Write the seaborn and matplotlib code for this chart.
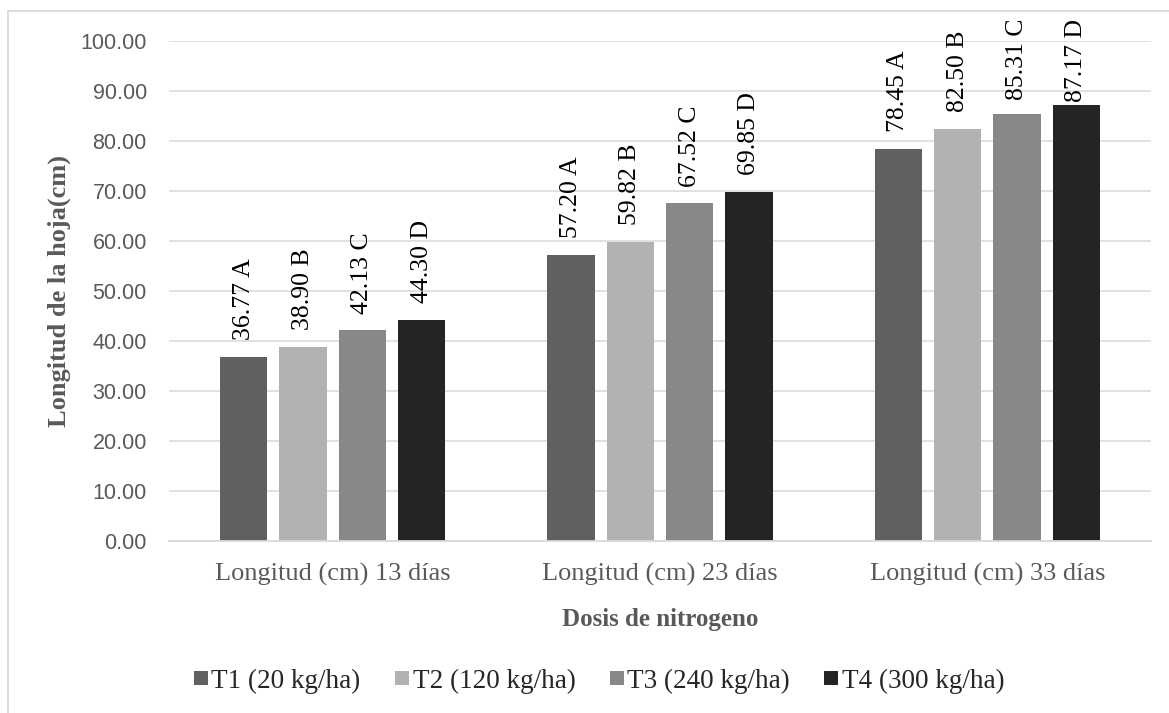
import matplotlib
matplotlib.use("Agg")
import matplotlib.pyplot as plt
import seaborn as sns
import pandas as pd
from matplotlib.lines import Line2D
from matplotlib.patches import Rectangle

# ---- data ----
categories = ["Longitud (cm) 13 días", "Longitud (cm) 23 días", "Longitud (cm) 33 días"]
series_names = ["T1 (20 kg/ha)", "T2 (120 kg/ha)", "T3 (240 kg/ha)", "T4 (300 kg/ha)"]
t1_values = [36.77, 57.20, 78.45]
t2_values = [38.90, 59.82, 82.50]
t3_values = [42.13, 67.52, 85.31]
t4_values = [44.30, 69.85, 87.17]
series_letters = ["A", "B", "C", "D"]
y_ticks = [0, 10, 20, 30, 40, 50, 60, 70, 80, 90, 100]

colors = ["#606060", "#b2b2b2", "#888888", "#242424"]
SERIF = "Liberation Serif"
SANS = "Liberation Sans"
GRID = "#d9d9d9"
TXT = "#595959"

all_values = [t1_values, t2_values, t3_values, t4_values]
rows = []
for name, vals in zip(series_names, all_values):
    for cat, v in zip(categories, vals):
        rows.append({"cat": cat, "serie": name, "valor": v})
df = pd.DataFrame(rows)

sns.set_theme(style="white")
plt.rcParams["font.family"] = [SERIF, "DejaVu Serif"]

fig = plt.figure(figsize=(11.69, 7.13), dpi=100)
W, H = 1169, 713
ax = fig.add_axes([169 / W, 1 - 541 / H, (1151 - 169) / W, (541 - 41) / H])

sns.barplot(data=df, x="cat", y="valor", hue="serie", order=categories,
            hue_order=series_names, palette=colors, saturation=1,
            width=0.725, gap=0.2, legend=False, ax=ax, linewidth=0)

ax.set_xlim(-0.5, 2.5)
ax.set_ylim(0, 100)
ax.set_yticks(y_ticks)
ax.set_yticklabels([f"{t:.2f}" for t in y_ticks], fontfamily=SANS, fontsize=15.5, color=TXT)
ax.tick_params(axis="y", length=0, pad=16)
ax.tick_params(axis="x", length=0, pad=15.5)
for lbl in ax.get_xticklabels():
    lbl.set_fontfamily(SERIF)
    lbl.set_fontsize(19)
    lbl.set_color(TXT)

ax.yaxis.grid(True, color=GRID, linewidth=1.1)
ax.set_axisbelow(True)
for s in ["top", "right", "left"]:
    ax.spines[s].set_visible(False)
ax.spines["bottom"].set_color(GRID)
ax.spines["bottom"].set_linewidth(1.3)

ax.set_xlabel("Dosis de nitrogeno", fontfamily=SERIF, fontsize=18,
              fontweight="bold", color=TXT, labelpad=16)
ax.set_ylabel("Longitud de la hoja(cm)", fontfamily=SERIF, fontsize=19,
              fontweight="bold", color=TXT, labelpad=7)

# value labels
texts = []
for cont, letter in zip(ax.containers, series_letters):
    for bar in cont:
        v = bar.get_height()
        xc = bar.get_x() + bar.get_width() / 2
        t = ax.annotate(f"{v:.2f} {letter}", xy=(xc, v), xytext=(0, 12),
                        textcoords="offset points", rotation=90,
                        ha="center", va="bottom", fontfamily=SERIF,
                        fontsize=18.5, color="black", annotation_clip=False)
        texts.append(t)

fig.canvas.draw()
renderer = fig.canvas.get_renderer()
top_limit_px = H - 19  # display coords (origin bottom)
for t in texts:
    bb = t.get_window_extent(renderer)
    if bb.y1 > top_limit_px:
        shift = bb.y1 - top_limit_px
        ox, oy = t.get_position()
        t.set_position((ox, oy - shift * 72 / fig.dpi))

# legend
handles = [Line2D([0], [0], marker="s", linestyle="none", markersize=10,
                  markerfacecolor=c, markeredgewidth=0) for c in colors]
fig.legend(handles, series_names, loc="center", bbox_to_anchor=(599 / W, 1 - 681 / H),
           ncol=4, frameon=False, prop={"family": SERIF, "size": 19.5},
           handlelength=0.55, handletextpad=0.12, columnspacing=1.25, borderpad=0)

# chart-area border (top and left visible)
fig.add_artist(Rectangle((8 / W, -0.2), 1.5, 1.2 - 11 / H, transform=fig.transFigure,
                         fill=False, edgecolor=GRID, linewidth=1.3))

fig.savefig("out.png", dpi=100)
